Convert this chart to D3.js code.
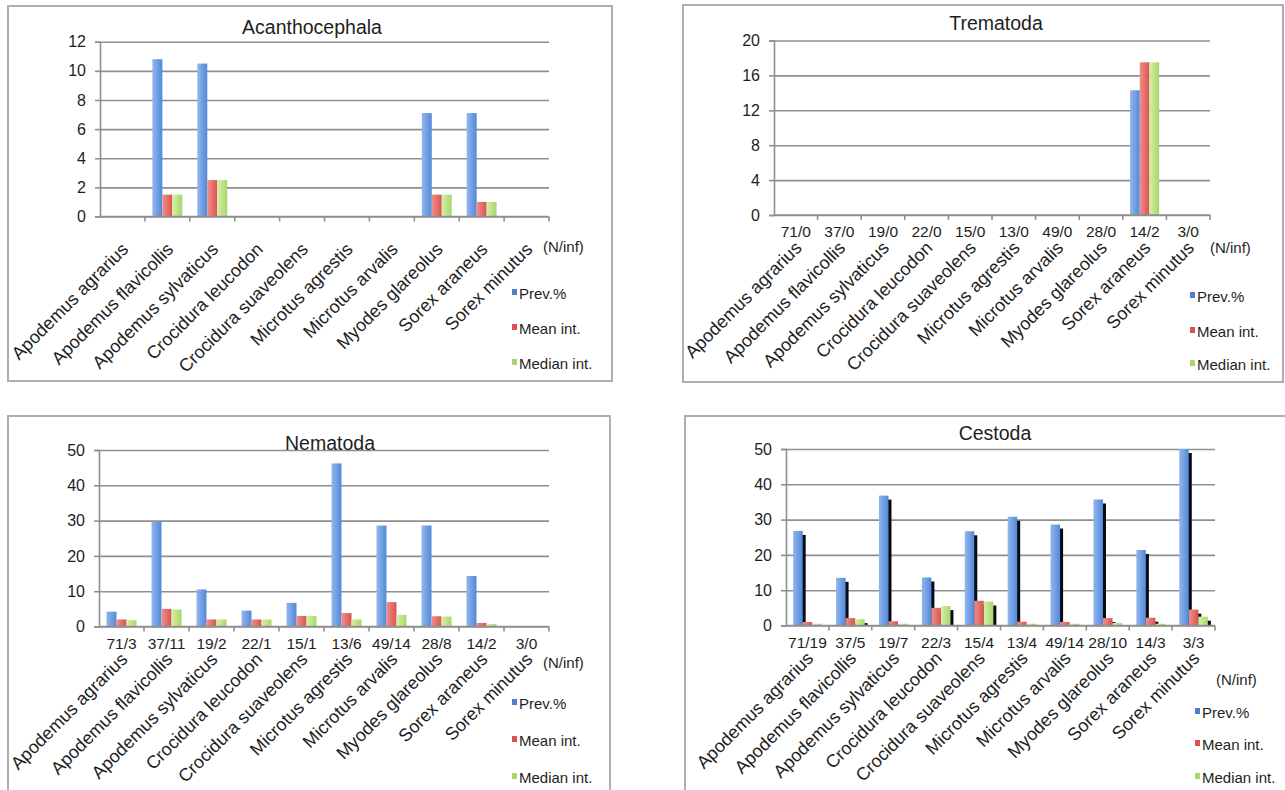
<!DOCTYPE html>
<html>
<head>
<meta charset="utf-8">
<script src="https://cdn.jsdelivr.net/npm/d3@7"></script>
<style>
  html, body { margin: 0; padding: 0; background: #fff; }
  svg { display: block; font-family: "Liberation Sans", Arial, sans-serif; }
</style>
</head>
<body>
<svg id="chart" width="1285" height="790"></svg>
<script>
// ---------- DATA ----------
const species = ["Apodemus agrarius", "Apodemus flavicollis", "Apodemus sylvaticus",
  "Crocidura leucodon", "Crocidura suaveolens", "Microtus agrestis", "Microtus arvalis",
  "Myodes glareolus", "Sorex araneus", "Sorex minutus"];
const seriesNames = ["Prev.%", "Mean int.", "Median int."];

const acanthoNinf = ["", "", "", "", "", "", "", "", "", ""];
const acanthoPrev = [0, 10.8, 10.5, 0, 0, 0, 0, 7.1, 7.1, 0];
const acanthoMean = [0, 1.5, 2.5, 0, 0, 0, 0, 1.5, 1.0, 0];
const acanthoMedian = [0, 1.5, 2.5, 0, 0, 0, 0, 1.5, 1.0, 0];
const acanthoTicks = [0, 2, 4, 6, 8, 10, 12];

const tremaNinf = ["71/0", "37/0", "19/0", "22/0", "15/0", "13/0", "49/0", "28/0", "14/2", "3/0"];
const tremaPrev = [0, 0, 0, 0, 0, 0, 0, 0, 14.3, 0];
const tremaMean = [0, 0, 0, 0, 0, 0, 0, 0, 17.5, 0];
const tremaMedian = [0, 0, 0, 0, 0, 0, 0, 0, 17.5, 0];
const tremaTicks = [0, 4, 8, 12, 16, 20];

const nemaNinf = ["71/3", "37/11", "19/2", "22/1", "15/1", "13/6", "49/14", "28/8", "14/2", "3/0"];
const nemaPrev = [4.2, 29.7, 10.5, 4.5, 6.7, 46.2, 28.6, 28.6, 14.3, 0];
const nemaMean = [2.0, 5.0, 2.0, 2.0, 3.0, 3.8, 6.9, 2.9, 1.0, 0];
const nemaMedian = [1.8, 4.8, 2.0, 2.0, 3.0, 2.0, 3.3, 2.8, 0.7, 0];
const nemaTicks = [0, 10, 20, 30, 40, 50];

const cestNinf = ["71/19", "37/5", "19/7", "22/3", "15/4", "13/4", "49/14", "28/10", "14/3", "3/3"];
const cestPrev = [26.8, 13.5, 36.8, 13.6, 26.7, 30.8, 28.6, 35.7, 21.4, 100];
const cestMean = [1.0, 2.1, 1.2, 5.0, 7.0, 1.1, 1.0, 2.1, 2.2, 4.5];
const cestMedian = [0.5, 1.8, 0.5, 5.5, 6.8, 0.5, 0.5, 0.7, 0.5, 2.5];
const cestTicks = [0, 10, 20, 30, 40, 50];

// ---------- LAYOUT ----------
const panels = [
  { title: "Acanthocephala", ninf: acanthoNinf, values: [acanthoPrev, acanthoMean, acanthoMedian], ticks: acanthoTicks,
    frame: [8, 6, 612, 381], px: [100, 549], py: [216.5, 41.7], titlePos: [312, 34],
    ninfLab: [543, 252], legX: 512, legY: [293, 328, 363], shadow: false },
  { title: "Trematoda", ninf: tremaNinf, values: [tremaPrev, tremaMean, tremaMedian], ticks: tremaTicks,
    frame: [683, 5, 1283, 382], px: [774, 1210], py: [215, 40.5], titlePos: [996, 30],
    ninfLab: [1210, 253], legX: 1190, legY: [296, 331, 364], shadow: false },
  { title: "Nematoda", ninf: nemaNinf, values: [nemaPrev, nemaMean, nemaMedian], ticks: nemaTicks,
    frame: [8, 416, 610, 820], px: [99, 549], py: [626.5, 450], titlePos: [330, 450],
    ninfLab: [543, 668], legX: 512, legY: [703, 740, 777], shadow: false },
  { title: "Cestoda", ninf: cestNinf, values: [cestPrev, cestMean, cestMedian], ticks: cestTicks,
    frame: [685, 416, 1295, 820], px: [786, 1215], py: [625.5, 449], titlePos: [995, 440],
    ninfLab: [1216, 685], legX: 1195, legY: [712, 744, 777], shadow: true }
];

const svg = d3.select("#chart");
const defs = svg.append("defs");
const grads = [
  ["gBlue", "#93b6ee", "#5289d8"],
  ["gRed", "#ee8f8a", "#da5450"],
  ["gGreen", "#d6f0a6", "#a8d66c"]
];
grads.forEach(([id, c1, c2]) => {
  const g = defs.append("linearGradient").attr("id", id).attr("x1", "0").attr("x2", "1").attr("y1", "0").attr("y2", "0");
  g.append("stop").attr("offset", "0%").attr("stop-color", c1);
  g.append("stop").attr("offset", "100%").attr("stop-color", c2);
});
const fills = ["url(#gBlue)", "url(#gRed)", "url(#gGreen)"];
const legendColors = ["#4f7fcc", "#d9534f", "#a8d66c"];
const textColor = "#1e1e1e";
const gridColor = "#8f8f8f";

panels.forEach(p => {
  const g = svg.append("g");
  // frame
  g.append("rect")
    .attr("x", p.frame[0]).attr("y", p.frame[1])
    .attr("width", p.frame[2] - p.frame[0]).attr("height", p.frame[3] - p.frame[1])
    .attr("fill", "#fff").attr("stroke", "#aeaeae").attr("stroke-width", 2);

  const ymax = p.ticks[p.ticks.length - 1];
  const y = d3.scaleLinear().domain([0, ymax]).range(p.py);
  const x = d3.scaleBand().domain(species).range(p.px).paddingInner(0).paddingOuter(0);
  const xs = d3.scaleBand().domain(seriesNames).range([0, x.bandwidth()]).paddingInner(0).paddingOuter(0.75);

  // gridlines
  g.append("g").attr("transform", `translate(${p.px[0]},0)`)
    .call(d3.axisLeft(y).tickValues(p.ticks).tickSize(-(p.px[1] - p.px[0])).tickFormat(""))
    .call(s => s.select(".domain").remove())
    .call(s => s.selectAll("line").attr("stroke", gridColor).attr("stroke-width", 1.6));

  // y axis
  g.append("g").attr("transform", `translate(${p.px[0]},0)`)
    .call(d3.axisLeft(y).tickValues(p.ticks).tickSize(5).tickPadding(9))
    .call(s => s.select(".domain").attr("stroke", gridColor).attr("stroke-width", 1.6))
    .call(s => s.selectAll("line").attr("stroke", gridColor).attr("stroke-width", 1.6))
    .call(s => s.selectAll("text").attr("fill", textColor).attr("font-size", 16)
      .attr("font-family", "'Liberation Sans', Arial, sans-serif"));

  // bars: series by series so later series overlap earlier shadows
  seriesNames.forEach((sn, si) => {
    const vals = p.values[si];
    const data = species.map((sp, i) => ({ sp, v: Math.min(vals[i], ymax) })).filter(d => d.v > 0);
    if (p.shadow) {
      g.append("g").selectAll("rect").data(data).join("rect")
        .attr("x", d => x(d.sp) + xs(sn) + 3)
        .attr("y", d => Math.min(y(d.v) + 4, y(0)))
        .attr("width", xs.bandwidth())
        .attr("height", d => Math.max(0, y(0) - Math.min(y(d.v) + 4, y(0))))
        .attr("fill", "#0a0a14");
    }
    g.append("g").selectAll("rect").data(data).join("rect")
      .attr("x", d => x(d.sp) + xs(sn))
      .attr("y", d => y(d.v))
      .attr("width", xs.bandwidth())
      .attr("height", d => y(0) - y(d.v))
      .attr("fill", fills[si]);
  });

  // x axis line + boundary ticks
  g.append("line").attr("x1", p.px[0]).attr("x2", p.px[1]).attr("y1", y(0)).attr("y2", y(0))
    .attr("stroke", gridColor).attr("stroke-width", 1.6);
  g.append("g").selectAll("line").data(species).join("line")
    .attr("x1", d => x(d) + x.bandwidth()).attr("x2", d => x(d) + x.bandwidth())
    .attr("y1", y(0)).attr("y2", y(0) + 5)
    .attr("stroke", gridColor).attr("stroke-width", 1.6);

  // N/inf labels
  g.append("g").selectAll("text").data(species).join("text")
    .attr("x", (d) => x(d) + x.bandwidth() / 2)
    .attr("y", y(0) + 22)
    .attr("text-anchor", "middle").attr("font-size", 15.5).attr("fill", textColor)
    .text((d, i) => p.ninf[i]);

  // species labels, rotated
  g.append("g").selectAll("text").data(species).join("text")
    .attr("transform", d => `translate(${x(d) + x.bandwidth() / 2 + 7},${y(0) + 34}) rotate(-45)`)
    .attr("text-anchor", "end").attr("font-size", 18).attr("fill", textColor)
    .text(d => d);

  // title
  g.append("text").attr("x", p.titlePos[0]).attr("y", p.titlePos[1])
    .attr("text-anchor", "middle").attr("font-size", 19.5).attr("fill", textColor)
    .text(p.title);

  // (N/inf) label
  g.append("text").attr("x", p.ninfLab[0]).attr("y", p.ninfLab[1])
    .attr("font-size", 15).attr("fill", textColor).text("(N/inf)");

  // legend
  const leg = g.append("g").selectAll("g").data(seriesNames).join("g")
    .attr("transform", (d, i) => `translate(${p.legX},${p.legY[i]})`);
  leg.append("rect").attr("x", 0).attr("y", -4).attr("width", 5).attr("height", 6)
    .attr("fill", (d, i) => legendColors[i]);
  leg.append("text").attr("x", 7).attr("y", 5.5).attr("font-size", 15).attr("fill", textColor).text(d => d);
});
</script>
</body>
</html>
